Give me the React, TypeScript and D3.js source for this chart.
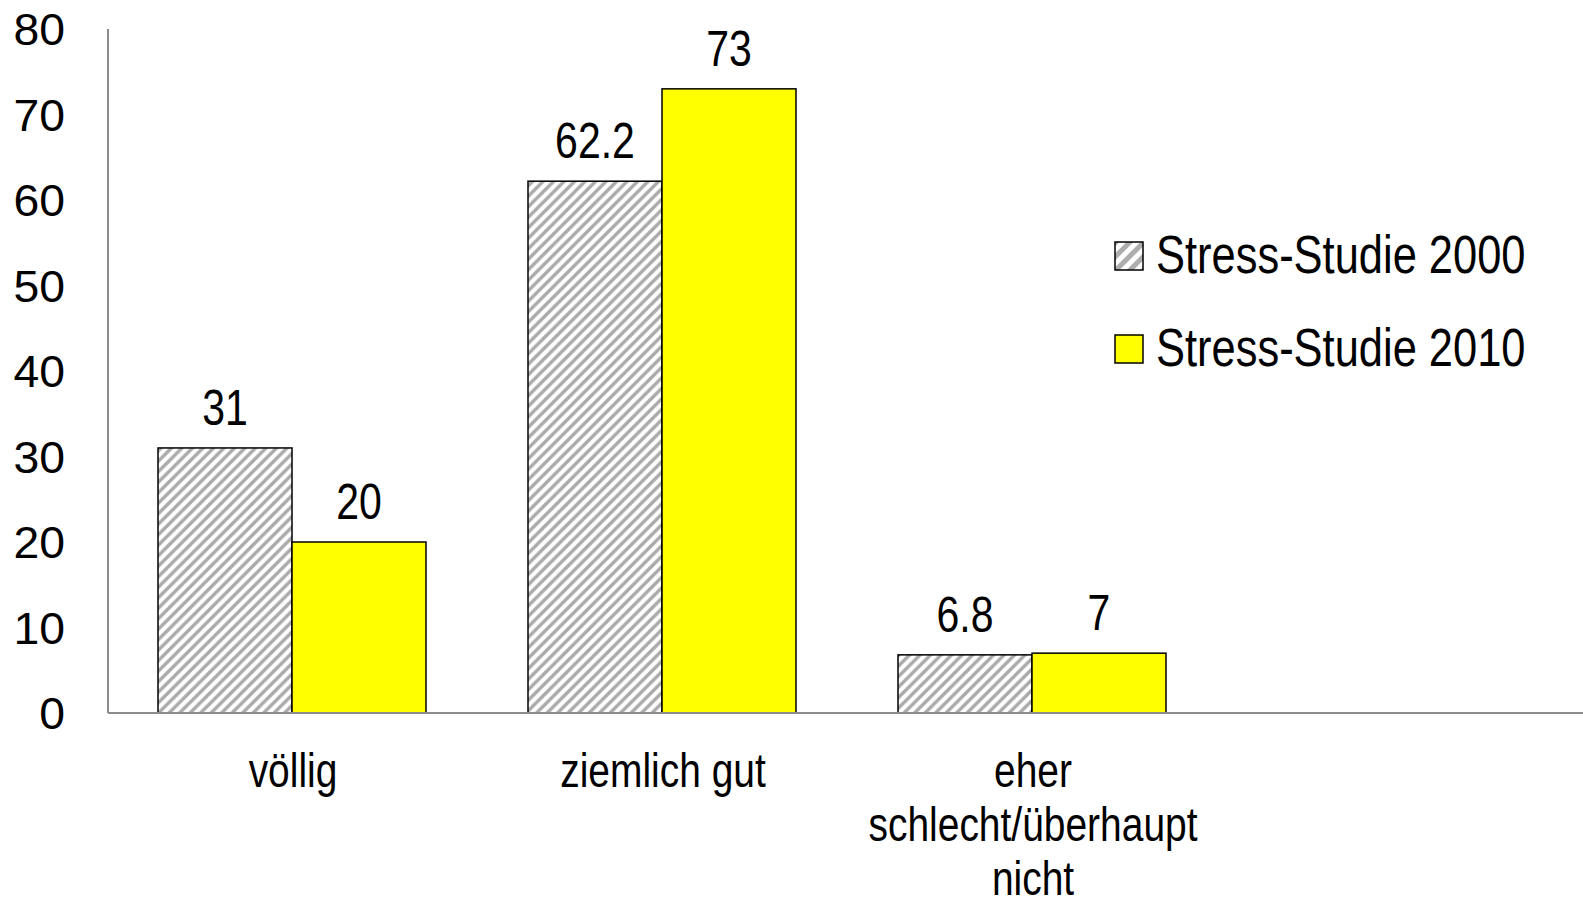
import React, { useEffect, useRef } from 'react';
import * as d3 from 'd3';

const categories = ['völlig', 'ziemlich gut', 'eher schlecht/überhaupt nicht'];
const categoryLines = [['völlig'], ['ziemlich gut'], ['eher', 'schlecht/überhaupt', 'nicht']];
const seriesNames = ['Stress-Studie 2000', 'Stress-Studie 2010'];
const values2000 = [31, 62.2, 6.8];
const values2010 = [20, 73, 7];
const yTicks = [0, 10, 20, 30, 40, 50, 60, 70, 80];

const W = 1583;
const H = 899;

const App = () => {
    const svgRef = useRef(null);

    useEffect(() => {
        if (!svgRef.current) return;
        const svg = d3.select(svgRef.current);
        svg.selectAll('*').remove();

        const left = 108;
        const baseY = 713;
        const band = 370;

        const x = d3.scaleBand<string>()
            .domain(categories)
            .range([left, left + band * categories.length])
            .paddingInner(0)
            .paddingOuter(0);

        const x1 = d3.scaleBand<string>()
            .domain(seriesNames)
            .range([50, band - 52])
            .padding(0);

        const y = d3.scaleLinear().domain([0, 80]).range([baseY, 29]);

        // hatch pattern
        const defs = svg.append('defs');
        const pat = defs.append('pattern')
            .attr('id', 'hatch')
            .attr('patternUnits', 'userSpaceOnUse')
            .attr('width', 10.5)
            .attr('height', 10.5);
        pat.append('rect').attr('width', 10.5).attr('height', 10.5).attr('fill', '#ffffff');
        pat.append('path')
            .attr('d', 'M-2,12.5 L12.5,-2 M-2,2 L2,-2 M8.5,12.5 L12.5,8.5')
            .attr('stroke', '#aaaaaa')
            .attr('stroke-width', 3.4);

        const legendPat = defs.append('pattern')
            .attr('id', 'hatch-legend')
            .attr('patternUnits', 'userSpaceOnUse')
            .attr('width', 14)
            .attr('height', 14);
        legendPat.append('rect').attr('width', 14).attr('height', 14).attr('fill', '#ffffff');
        legendPat.append('path')
            .attr('d', 'M-3,17 L17,-3 M-3,3 L3,-3 M11,17 L17,11')
            .attr('stroke', '#adadad')
            .attr('stroke-width', 5);

        const fills = ['url(#hatch)', '#ffff00'];
        const series = [values2000, values2010];

        // y tick labels
        svg.append('g')
            .selectAll('text')
            .data(yTicks)
            .join('text')
            .attr('transform', d => `translate(65,${y(d) + 16}) scale(1.03,1)`)
            .attr('text-anchor', 'end')
            .attr('font-family', 'Liberation Sans, Arial, sans-serif')
            .attr('font-size', 45)
            .attr('fill', '#000')
            .text(d => d);

        // bars
        series.forEach((vals, si) => {
            svg.append('g')
                .selectAll('rect')
                .data(vals)
                .join('rect')
                .attr('x', (d, i) => x(categories[i]) + x1(seriesNames[si]))
                .attr('y', d => y(d))
                .attr('width', x1.bandwidth())
                .attr('height', d => baseY - y(d))
                .attr('fill', fills[si])
                .attr('stroke', '#000')
                .attr('stroke-width', 1.5);

            // value labels
            svg.append('g')
                .selectAll('text')
                .data(vals)
                .join('text')
                .attr('transform', (d, i) => `translate(${x(categories[i]) + x1(seriesNames[si]) + x1.bandwidth() / 2},${y(d) - 23}) scale(0.82,1)`)
                .attr('text-anchor', 'middle')
                .attr('font-family', 'Liberation Sans, Arial, sans-serif')
                .attr('font-size', 50)
                .attr('fill', '#000')
                .text(d => String(d));
        });

        // axes lines
        svg.append('line')
            .attr('x1', left).attr('x2', left)
            .attr('y1', y(80)).attr('y2', baseY)
            .attr('stroke', '#8c8c8c').attr('stroke-width', 2);
        svg.append('line')
            .attr('x1', left).attr('x2', W)
            .attr('y1', baseY).attr('y2', baseY)
            .attr('stroke', '#8c8c8c').attr('stroke-width', 2);

        // category labels
        categoryLines.forEach((lines, i) => {
            const cx = x(categories[i]) + x.bandwidth() / 2;
            lines.forEach((line, li) => {
                svg.append('text')
                    .attr('transform', `translate(${cx},${787 + li * 54}) scale(0.82,1)`)
                    .attr('text-anchor', 'middle')
                    .attr('font-family', 'Liberation Sans, Arial, sans-serif')
                    .attr('font-size', 47.5)
                    .attr('fill', '#000')
                    .text(line);
            });
        });

        // legend
        const legendFills = ['url(#hatch-legend)', '#ffff00'];
        seriesNames.forEach((name, i) => {
            const ly = 242 + i * 93;
            svg.append('rect')
                .attr('x', 1115).attr('y', ly)
                .attr('width', 28).attr('height', 28)
                .attr('fill', legendFills[i])
                .attr('stroke', '#000').attr('stroke-width', 1.5);
            svg.append('text')
                .attr('transform', `translate(1156,${ly + 31}) scale(0.82,1)`)
                .attr('font-family', 'Liberation Sans, Arial, sans-serif')
                .attr('font-size', 53)
                .attr('fill', '#000')
                .text(name);
        });
    }, []);

    return (
        <div style={{ position: 'absolute', left: 0, top: 0, width: W, height: H, background: '#fff' }}>
            <svg ref={svgRef} width={W} height={H} style={{ display: 'block' }} />
        </div>
    );
};

export default App;
